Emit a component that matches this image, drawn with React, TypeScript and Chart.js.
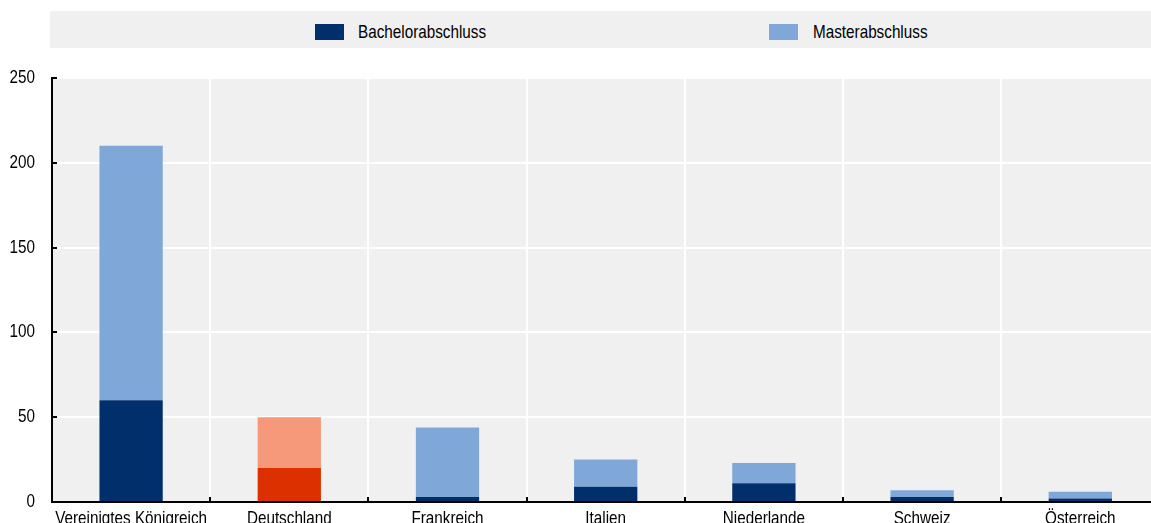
import React, { useEffect, useRef } from "react";
import { Chart, registerables } from "chart.js";

Chart.register(...registerables);

const categories = [
  "Vereinigtes Königreich",
  "Deutschland",
  "Frankreich",
  "Italien",
  "Niederlande",
  "Schweiz",
  "Österreich",
];
const bachelor = [60, 20, 3, 9, 11, 3, 2];
const master = [150, 30, 41, 16, 12, 4, 4];
const seriesNames = ["Bachelorabschluss", "Masterabschluss"];
const yTicks = [0, 50, 100, 150, 200, 250];

const NAVY = "#002F6C";
const LIGHT = "#7FA8D9";
const RED = "#DC3000";
const SALMON = "#F6997B";
const highlight = "Deutschland";

const FONT = '"Liberation Sans", Arial, sans-serif';
const FSIZE = 18.5;
const SQUEEZE = 0.825;

export default function App() {
  const ref = useRef<HTMLCanvasElement | null>(null);

  useEffect(() => {
    if (!ref.current) return;
    const bgPlugin = {
      id: "bgPlugin",
      beforeDraw(chart: any) {
        const { ctx, chartArea } = chart;
        ctx.save();
        ctx.fillStyle = "#F0F0F0";
        ctx.fillRect(chartArea.left, chartArea.top, chartArea.right - chartArea.left, chartArea.bottom - chartArea.top);
        ctx.restore();
      },
      afterDraw(chart: any) {
        const { ctx, chartArea, scales } = chart;
        const x = scales.x;
        const y = scales.y;
        ctx.save();
        ctx.strokeStyle = "#000";
        ctx.lineWidth = 2;
        ctx.beginPath();
        for (const v of yTicks) {
          const py = Math.round(y.getPixelForValue(v));
          ctx.moveTo(chartArea.left, py);
          ctx.lineTo(chartArea.left + 5, py);
        }
        for (let i = 0; i < categories.length - 1; i++) {
          const px = Math.round((x.getPixelForValue(i) + x.getPixelForValue(i + 1)) / 2);
          ctx.moveTo(px, chartArea.bottom);
          ctx.lineTo(px, chartArea.bottom - 5);
        }
        ctx.stroke();

        // condensed tick labels (Arial Narrow look)
        ctx.fillStyle = "#000";
        ctx.font = `${FSIZE}px ${FONT}`;
        ctx.textAlign = "right";
        ctx.textBaseline = "middle";
        for (const t of y.ticks) {
          const py = y.getPixelForValue(t.value);
          ctx.save();
          ctx.translate(35, py);
          ctx.scale(SQUEEZE, 1);
          ctx.fillText(String(t.value), 0, 0);
          ctx.restore();
        }
        ctx.textAlign = "center";
        ctx.textBaseline = "alphabetic";
        x.ticks.forEach((t: any, i: number) => {
          const px = x.getPixelForValue(i);
          ctx.save();
          ctx.translate(px, chartArea.bottom + 21.5);
          ctx.scale(SQUEEZE, 1);
          ctx.fillText(categories[t.value] ?? categories[i], 0, 0);
          ctx.restore();
        });
        ctx.restore();
      },
    };
    const chart = new Chart(ref.current, {
      type: "bar",
      data: {
        labels: categories,
        datasets: [
          {
            label: seriesNames[0],
            data: bachelor,
            backgroundColor: categories.map((c) => (c === highlight ? RED : NAVY)),
            borderWidth: 0,
            barPercentage: 0.4,
            categoryPercentage: 1,
          },
          {
            label: seriesNames[1],
            data: master,
            backgroundColor: categories.map((c) => (c === highlight ? SALMON : LIGHT)),
            borderWidth: 0,
            barPercentage: 0.4,
            categoryPercentage: 1,
          },
        ],
      },
      options: {
        responsive: false,
        animation: false,
        layout: { padding: { top: 78, left: 0, right: 0.6, bottom: 0 } },
        plugins: { legend: { display: false }, tooltip: { enabled: false } },
        scales: {
          x: {
            stacked: true,
            grid: { color: "#FFFFFF", lineWidth: 2, drawTicks: false, offset: true },
            border: { display: true, color: "#000", width: 2 },
            ticks: { display: false, autoSkip: false, maxRotation: 0 },
            afterFit: (s: any) => {
              s.height = 43;
            },
          },
          y: {
            stacked: true,
            min: 0,
            max: 250,
            grid: { color: "#FFFFFF", lineWidth: 2, drawTicks: false },
            border: { display: true, color: "#000", width: 2 },
            ticks: { display: false, stepSize: 50 },
            afterFit: (s: any) => {
              s.width = 52;
            },
          },
        },
      },
      plugins: [bgPlugin],
    });
    return () => chart.destroy();
  }, []);

  const legendText: React.CSSProperties = {
    position: "absolute",
    top: 20,
    fontFamily: FONT,
    fontSize: FSIZE,
    lineHeight: "24px",
    color: "#000",
    whiteSpace: "nowrap",
    transform: `scaleX(${SQUEEZE})`,
    transformOrigin: "left center",
  };

  return (
    <div style={{ position: "fixed", left: 0, top: 0, width: 1151, height: 523, overflow: "hidden", background: "#fff" }}>
      <div style={{ position: "absolute", left: 50, top: 11, width: 1101, height: 37, background: "#F0F0F0" }} />
      <div style={{ position: "absolute", left: 315, top: 24, width: 29, height: 16, background: NAVY }} />
      <div style={{ ...legendText, left: 358 }}>{seriesNames[0]}</div>
      <div style={{ position: "absolute", left: 769, top: 24, width: 29, height: 16, background: LIGHT }} />
      <div style={{ ...legendText, left: 813 }}>{seriesNames[1]}</div>
      <canvas ref={ref} width={1160} height={545} style={{ position: "absolute", left: 0, top: 0, width: 1160, height: 545 }} />
    </div>
  );
}
